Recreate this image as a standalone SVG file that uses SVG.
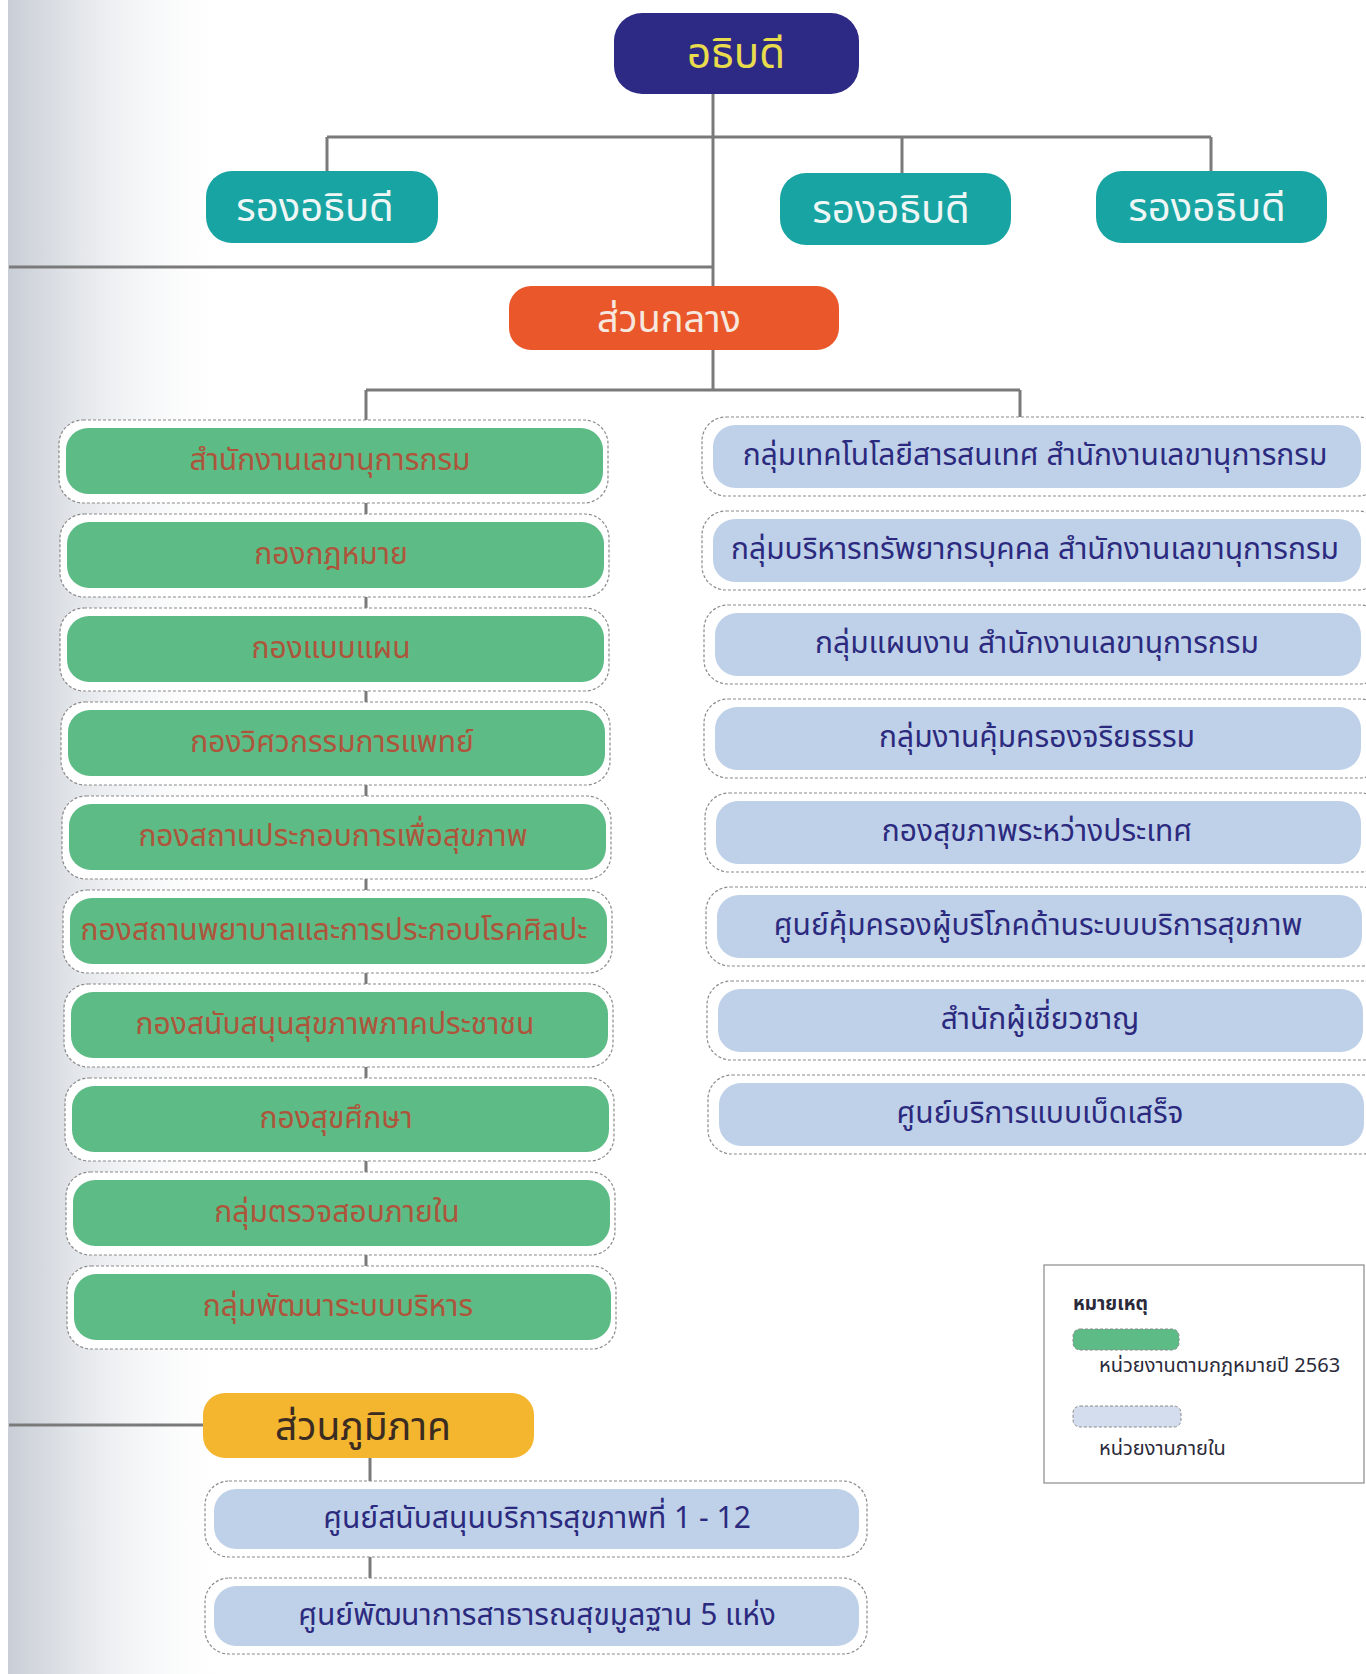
<svg xmlns="http://www.w3.org/2000/svg" width="1366" height="1674" viewBox="0 0 1366 1674">
<defs>
<linearGradient id="leftShade" x1="0" y1="0" x2="1" y2="0">
<stop offset="0" stop-color="#c9ced6"/>
<stop offset="0.3" stop-color="#e3e6ea"/>
<stop offset="1" stop-color="#ffffff" stop-opacity="0"/>
</linearGradient>
<style>
text{font-family:"Noto Sans Thai","Noto Sans","DejaVu Sans",sans-serif;text-anchor:middle;dominant-baseline:central}
.conn{stroke:#7a7a7a;stroke-width:3;fill:none}
.frame{fill:#ffffff;stroke:#8a8a8a;stroke-width:1.2;stroke-dasharray:3 2}
.green{fill:#5dbb86}
.blue{fill:#bfd1e9}
.gtxt{fill:#ad553b;font-size:30px}
.btxt{fill:#2c2a7e;font-size:30px}
.vp{fill:#18a4a2}
.vptxt{fill:#eef7f6;font-size:40px}
</style>
</defs>
<rect width="1366" height="1674" fill="#ffffff"/>
<rect x="8" y="0" width="230" height="1674" fill="url(#leftShade)"/>

<g id="connectors">
<path class="conn" d="M713 94 V286"/>
<path class="conn" d="M327 137 H1211"/>
<path class="conn" d="M327 137 V171 M902 137 V173 M1211 137 V171"/>
<path class="conn" d="M9 267 H713"/>
<path class="conn" d="M713 350 V390 M366 390 H1020 M366 390 V420 M1020 390 V417"/>
<path class="conn" d="M366 495 V521 M366 589 V615 M366 683 V709 M366 777 V803 M366 871 V897 M366 965 V991 M366 1059 V1085 M366 1153 V1179 M366 1247 V1273"/>
<path class="conn" d="M9 1425 H203"/>
<path class="conn" d="M370 1458 V1482 M370 1556 V1578"/>
</g>

<g id="n-director">
<rect x="614" y="13" width="245" height="81" rx="28" fill="#2d2a86"/>
<text x="736" y="55" fill="#e8dc4c" font-size="42">อธิบดี</text>
</g>
<g id="n-vp1"><rect class="vp" x="206" y="171" width="232" height="72" rx="26"/><text class="vptxt" x="315" y="209">รองอธิบดี</text></g>
<g id="n-vp2"><rect class="vp" x="780" y="173" width="231" height="72" rx="26"/><text class="vptxt" x="891" y="211">รองอธิบดี</text></g>
<g id="n-vp3"><rect class="vp" x="1096" y="171" width="231" height="72" rx="26"/><text class="vptxt" x="1207" y="209">รองอธิบดี</text></g>

<g id="n-central">
<rect x="509" y="286" width="330" height="64" rx="22" fill="#e9572b"/>
<text x="669" y="320" fill="#f6e8df" font-size="38">ส่วนกลาง</text>
</g>

<g id="n-g1"><rect class="frame" x="59" y="420" width="549" height="83" rx="24"/><rect class="green" x="66" y="428" width="537" height="66" rx="22"/><text class="gtxt" x="330" y="461">สำนักงานเลขานุการกรม</text></g>
<g id="n-g2"><rect class="frame" x="60" y="514" width="549" height="83" rx="24"/><rect class="green" x="67" y="522" width="537" height="66" rx="22"/><text class="gtxt" x="331" y="555">กองกฎหมาย</text></g>
<g id="n-g3"><rect class="frame" x="60" y="608" width="549" height="83" rx="24"/><rect class="green" x="67" y="616" width="537" height="66" rx="22"/><text class="gtxt" x="331" y="649">กองแบบแผน</text></g>
<g id="n-g4"><rect class="frame" x="61" y="702" width="549" height="83" rx="24"/><rect class="green" x="68" y="710" width="537" height="66" rx="22"/><text class="gtxt" x="332" y="743">กองวิศวกรรมการแพทย์</text></g>
<g id="n-g5"><rect class="frame" x="62" y="796" width="549" height="83" rx="24"/><rect class="green" x="69" y="804" width="537" height="66" rx="22"/><text class="gtxt" x="333" y="837">กองสถานประกอบการเพื่อสุขภาพ</text></g>
<g id="n-g6"><rect class="frame" x="63" y="890" width="549" height="83" rx="24"/><rect class="green" x="70" y="898" width="537" height="66" rx="22"/><text class="gtxt" x="334" y="931">กองสถานพยาบาลและการประกอบโรคศิลปะ</text></g>
<g id="n-g7"><rect class="frame" x="64" y="984" width="549" height="83" rx="24"/><rect class="green" x="71" y="992" width="537" height="66" rx="22"/><text class="gtxt" x="335" y="1025">กองสนับสนุนสุขภาพภาคประชาชน</text></g>
<g id="n-g8"><rect class="frame" x="65" y="1078" width="549" height="83" rx="24"/><rect class="green" x="72" y="1086" width="537" height="66" rx="22"/><text class="gtxt" x="336" y="1119">กองสุขศึกษา</text></g>
<g id="n-g9"><rect class="frame" x="66" y="1172" width="549" height="83" rx="24"/><rect class="green" x="73" y="1180" width="537" height="66" rx="22"/><text class="gtxt" x="337" y="1213">กลุ่มตรวจสอบภายใน</text></g>
<g id="n-g10"><rect class="frame" x="67" y="1266" width="549" height="83" rx="24"/><rect class="green" x="74" y="1274" width="537" height="66" rx="22"/><text class="gtxt" x="338" y="1307">กลุ่มพัฒนาระบบบริหาร</text></g>

<g id="n-b1"><rect class="frame" x="702" y="417" width="680" height="79" rx="24"/><rect class="blue" x="713" y="425" width="648" height="63" rx="22"/><text class="btxt" x="1035" y="456">กลุ่มเทคโนโลยีสารสนเทศ สำนักงานเลขานุการกรม</text></g>
<g id="n-b2"><rect class="frame" x="702" y="511" width="680" height="79" rx="24"/><rect class="blue" x="713" y="519" width="648" height="63" rx="22"/><text class="btxt" x="1035" y="550">กลุ่มบริหารทรัพยากรบุคคล สำนักงานเลขานุการกรม</text></g>
<g id="n-b3"><rect class="frame" x="704" y="605" width="680" height="79" rx="24"/><rect class="blue" x="715" y="613" width="646" height="63" rx="22"/><text class="btxt" x="1037" y="644">กลุ่มแผนงาน สำนักงานเลขานุการกรม</text></g>
<g id="n-b4"><rect class="frame" x="704" y="699" width="680" height="79" rx="24"/><rect class="blue" x="715" y="707" width="646" height="63" rx="22"/><text class="btxt" x="1037" y="738">กลุ่มงานคุ้มครองจริยธรรม</text></g>
<g id="n-b5"><rect class="frame" x="705" y="793" width="680" height="79" rx="24"/><rect class="blue" x="716" y="801" width="645" height="63" rx="22"/><text class="btxt" x="1037" y="832">กองสุขภาพระหว่างประเทศ</text></g>
<g id="n-b6"><rect class="frame" x="706" y="887" width="680" height="79" rx="24"/><rect class="blue" x="717" y="895" width="645" height="63" rx="22"/><text class="btxt" x="1038" y="926">ศูนย์คุ้มครองผู้บริโภคด้านระบบบริการสุขภาพ</text></g>
<g id="n-b7"><rect class="frame" x="707" y="981" width="680" height="79" rx="24"/><rect class="blue" x="718" y="989" width="645" height="63" rx="22"/><text class="btxt" x="1040" y="1020">สำนักผู้เชี่ยวชาญ</text></g>
<g id="n-b8"><rect class="frame" x="708" y="1075" width="680" height="79" rx="24"/><rect class="blue" x="719" y="1083" width="645" height="63" rx="22"/><text class="btxt" x="1040" y="1114">ศูนย์บริการแบบเบ็ดเสร็จ</text></g>

<g id="n-regional">
<rect x="203" y="1393" width="331" height="65" rx="22" fill="#f4b52f"/>
<text x="363" y="1428" fill="#3b2c22" font-size="39">ส่วนภูมิภาค</text>
</g>
<g id="n-r1"><rect class="frame" x="205" y="1481" width="662" height="76" rx="24"/><rect class="blue" x="214" y="1489" width="645" height="60" rx="22"/><text class="btxt" x="537" y="1519">ศูนย์สนับสนุนบริการสุขภาพที่ 1 - 12</text></g>
<g id="n-r2"><rect class="frame" x="205" y="1578" width="662" height="76" rx="24"/><rect class="blue" x="214" y="1586" width="645" height="60" rx="22"/><text class="btxt" x="537" y="1616">ศูนย์พัฒนาการสาธารณสุขมูลฐาน 5 แห่ง</text></g>

<g id="legend">
<rect x="1044" y="1265" width="320" height="218" fill="#ffffff" stroke="#8a8a8a" stroke-width="1.2"/>
<text x="1073" y="1304" fill="#2a2a3a" font-size="19" font-weight="bold" style="text-anchor:start">หมายเหตุ</text>
<rect x="1073" y="1329" width="106" height="21" rx="7" fill="#5dbb86" stroke="#8a8a8a" stroke-width="1" stroke-dasharray="3 2"/>
<text x="1099" y="1366" fill="#2a2a3a" font-size="20" style="text-anchor:start">หน่วยงานตามกฎหมายปี 2563</text>
<rect x="1073" y="1406" width="108" height="21" rx="7" fill="#d3ddee" stroke="#8a8a8a" stroke-width="1" stroke-dasharray="3 2"/>
<text x="1099" y="1449" fill="#2a2a3a" font-size="20" style="text-anchor:start">หน่วยงานภายใน</text>
</g>
</svg>
